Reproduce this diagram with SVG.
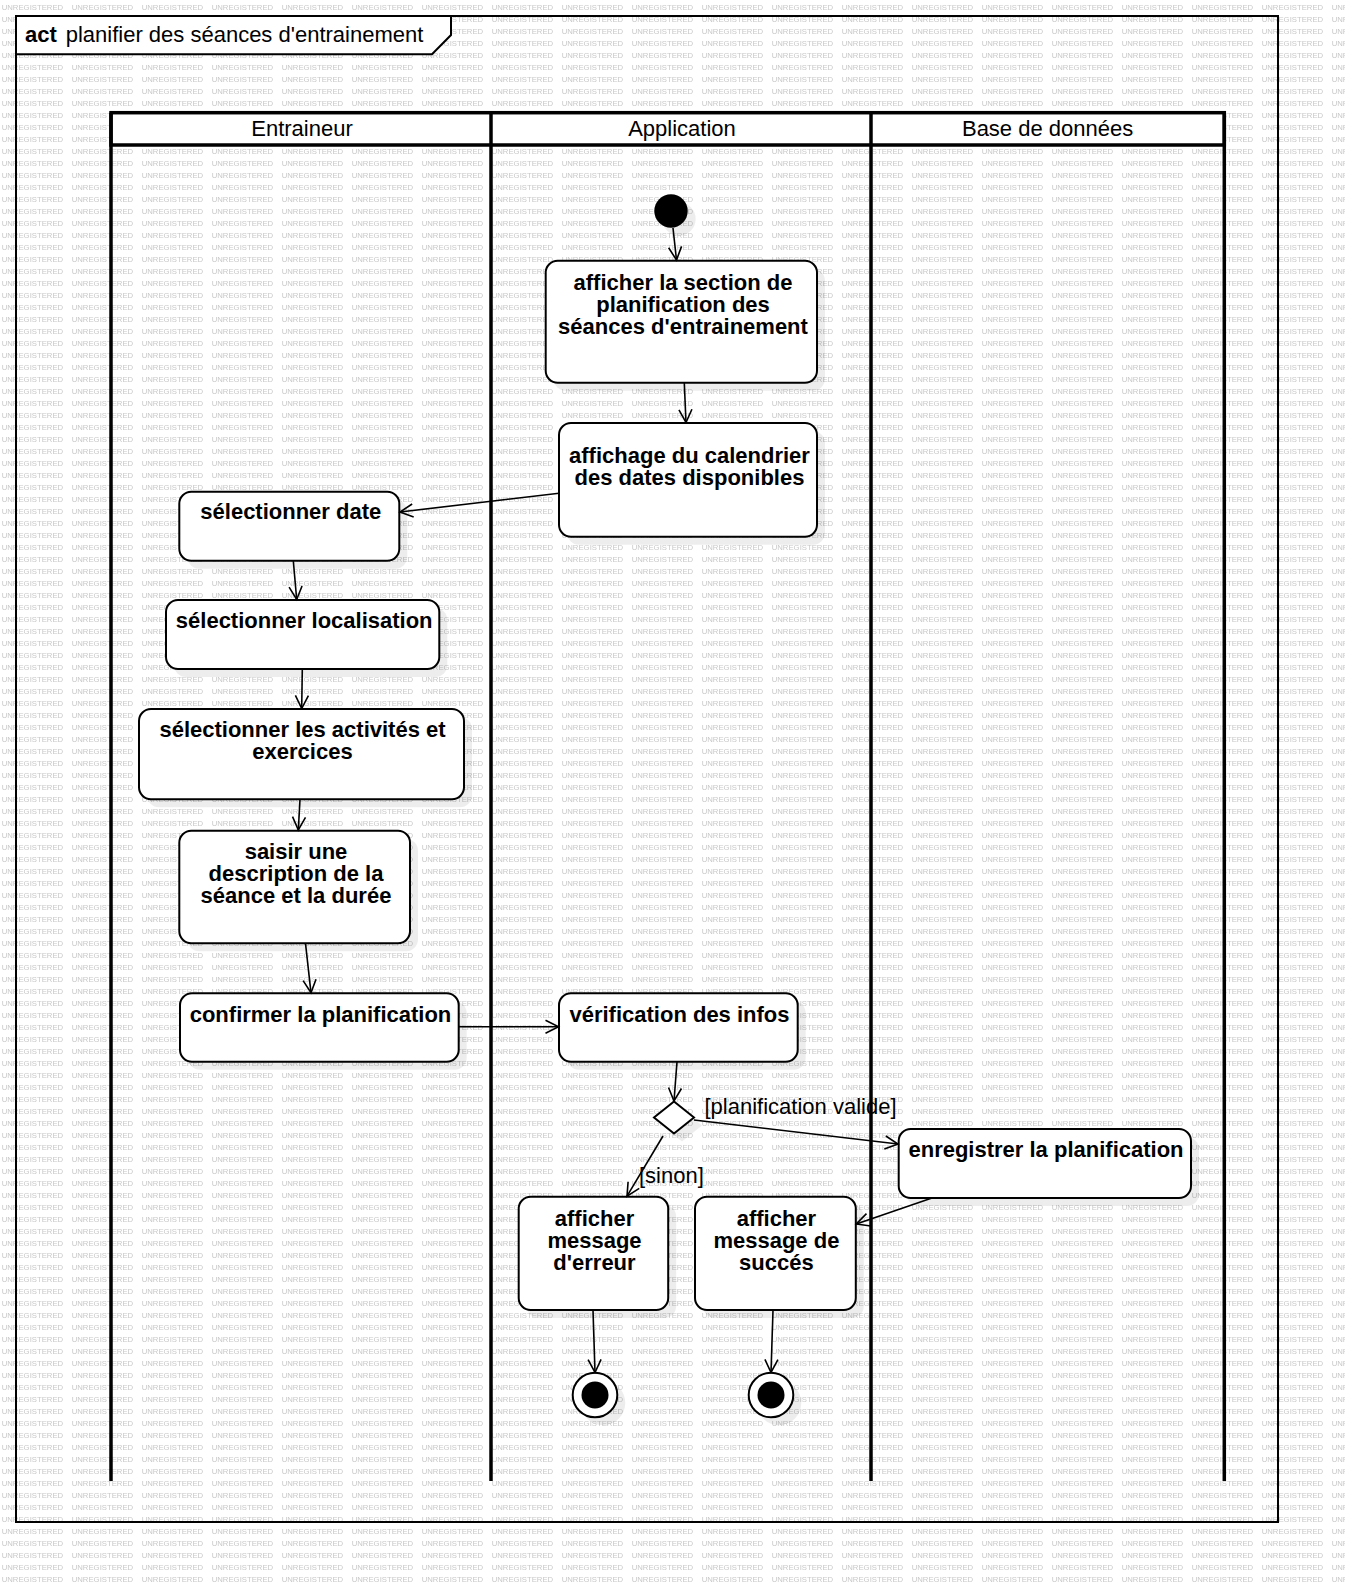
<svg xmlns="http://www.w3.org/2000/svg" width="1345" height="1589" viewBox="0 0 1345 1589">
<defs>
<style>
.wm{font-family:"Liberation Sans",Arial,sans-serif;font-size:7.75px;fill:#c8c8c8}
.box{fill:#fff;stroke:#000;stroke-width:2}
.sh{fill:#000;opacity:0.07}
.t{font-family:"Liberation Sans",Arial,sans-serif;font-size:22px;font-weight:bold;fill:#000;text-anchor:middle}
.r{font-family:"Liberation Sans",Arial,sans-serif;font-size:22px;fill:#000}
.lane{stroke:#000;stroke-width:3.5;fill:none}
.c{stroke:#000;stroke-width:1.6;fill:none;marker-end:url(#arr)}
</style>
<pattern id="wmp" width="70" height="12" patternUnits="userSpaceOnUse">
<text class="wm" x="1.7" y="10" textLength="61.5" lengthAdjust="spacingAndGlyphs">UNREGISTERED</text>
</pattern>
<marker id="arr" markerUnits="userSpaceOnUse" markerWidth="16" markerHeight="16" viewBox="-14 -8 16 16" refX="0" refY="0" orient="auto">
<path d="M-13,-6.5 L0,0 L-13,6.5" fill="none" stroke="#000" stroke-width="1.6"/>
</marker>
</defs>
<rect x="0" y="0" width="1345" height="1589" fill="#fff"/>
<rect x="0" y="0" width="1345" height="1589" fill="url(#wmp)"/>

<g id="frame">
<rect x="16" y="16" width="1262" height="1506" fill="none" stroke="#000" stroke-width="2"/>
<polygon points="16,16 451,16 451,35 432,54.3 16,54.3" fill="#fff" stroke="#000" stroke-width="2"/>
<text class="r" x="25" y="42" font-weight="bold">act</text>
<text class="r" x="65.7" y="42">planifier des séances d'entrainement</text>
</g>

<g id="swimlanes">
<rect x="111" y="112.7" width="1113.3" height="32.3" fill="#fff" stroke="#000" stroke-width="3.5"/>
<line class="lane" x1="111" y1="112.7" x2="111" y2="1481"/>
<line class="lane" x1="491" y1="112.7" x2="491" y2="1481"/>
<line class="lane" x1="871" y1="112.7" x2="871" y2="1481"/>
<line class="lane" x1="1224.3" y1="112.7" x2="1224.3" y2="1481"/>
<text class="r" x="302" y="136" text-anchor="middle">Entraineur</text>
<text class="r" x="682" y="136" text-anchor="middle">Application</text>
<text class="r" x="1047.6" y="136" text-anchor="middle">Base de données</text>
</g>

<g id="initial">
<circle class="sh" cx="679" cy="219" r="16.7"/>
<circle cx="671" cy="211" r="16.7" fill="#000"/>
</g>

<g id="n_afficher_section">
<rect class="sh" x="553.7" y="268.7" width="271.3" height="122" rx="12"/>
<rect class="box" x="545.7" y="260.7" width="271.3" height="122" rx="12"/>
<text class="t" x="683" y="290">afficher la section de</text>
<text class="t" x="683" y="312">planification des</text>
<text class="t" x="683" y="334">séances d'entrainement</text>
</g>

<g id="n_calendrier">
<rect class="sh" x="567" y="431" width="258" height="113.7" rx="12"/>
<rect class="box" x="559" y="423" width="258" height="113.7" rx="12"/>
<text class="t" x="689.5" y="463">affichage du calendrier</text>
<text class="t" x="689.5" y="485">des dates disponibles</text>
</g>

<g id="n_date">
<rect class="sh" x="187.3" y="499.7" width="220" height="69" rx="12"/>
<rect class="box" x="179.3" y="491.7" width="220" height="69" rx="12"/>
<text class="t" x="290.8" y="519.3">sélectionner date</text>
</g>

<g id="n_localisation">
<rect class="sh" x="174" y="608" width="273.3" height="69" rx="12"/>
<rect class="box" x="166" y="600" width="273.3" height="69" rx="12"/>
<text class="t" x="304.2" y="628.3">sélectionner localisation</text>
</g>

<g id="n_activites">
<rect class="sh" x="147" y="717" width="325" height="90.3" rx="12"/>
<rect class="box" x="139" y="709" width="325" height="90.3" rx="12"/>
<text class="t" x="302.5" y="736.5">sélectionner les activités et</text>
<text class="t" x="302.5" y="759">exercices</text>
</g>

<g id="n_saisir">
<rect class="sh" x="187.3" y="838.7" width="230.7" height="112.6" rx="12"/>
<rect class="box" x="179.3" y="830.7" width="230.7" height="112.6" rx="12"/>
<text class="t" x="296" y="859.3">saisir une</text>
<text class="t" x="296" y="881.3">description de la</text>
<text class="t" x="296" y="903.3">séance et la durée</text>
</g>

<g id="n_confirmer">
<rect class="sh" x="188" y="1001.3" width="278.7" height="68.4" rx="12"/>
<rect class="box" x="180" y="993.3" width="278.7" height="68.4" rx="12"/>
<text class="t" x="320.5" y="1021.7">confirmer la planification</text>
</g>

<g id="n_verification">
<rect class="sh" x="567" y="1001.3" width="238.7" height="68.4" rx="12"/>
<rect class="box" x="559" y="993.3" width="238.7" height="68.4" rx="12"/>
<text class="t" x="679.5" y="1021.7">vérification des infos</text>
</g>

<g id="decision">
<polygon class="sh" points="682,1109.5 702,1125.5 682,1141.5 662,1125.5"/>
<polygon points="674,1101.5 694,1117.5 674,1133.5 654,1117.5" fill="#fff" stroke="#000" stroke-width="2"/>
</g>

<g id="n_enregistrer">
<rect class="sh" x="906.7" y="1137" width="292.3" height="69" rx="12"/>
<rect class="box" x="898.7" y="1129" width="292.3" height="69" rx="12"/>
<text class="t" x="1046" y="1156.7">enregistrer la planification</text>
</g>

<g id="n_erreur">
<rect class="sh" x="526.7" y="1204.7" width="149.5" height="113.3" rx="12"/>
<rect class="box" x="518.7" y="1196.7" width="149.5" height="113.3" rx="12"/>
<text class="t" x="594.5" y="1225.7">afficher</text>
<text class="t" x="594.5" y="1247.7">message</text>
<text class="t" x="594.5" y="1269.7">d'erreur</text>
</g>

<g id="n_succes">
<rect class="sh" x="703" y="1204.7" width="160.8" height="113.3" rx="12"/>
<rect class="box" x="695" y="1196.7" width="160.8" height="113.3" rx="12"/>
<text class="t" x="776.4" y="1225.7">afficher</text>
<text class="t" x="776.4" y="1247.7">message de</text>
<text class="t" x="776.4" y="1269.7">succés</text>
</g>

<g id="final1">
<circle class="sh" cx="603" cy="1403" r="22.3"/>
<circle cx="595" cy="1395" r="22.3" fill="#fff" stroke="#000" stroke-width="2"/>
<circle cx="595" cy="1395" r="13.5" fill="#000"/>
</g>

<g id="final2">
<circle class="sh" cx="779" cy="1403" r="22.3"/>
<circle cx="771" cy="1395" r="22.3" fill="#fff" stroke="#000" stroke-width="2"/>
<circle cx="771" cy="1395" r="13.5" fill="#000"/>
</g>

<g id="connectors">
<line class="c" x1="673" y1="228" x2="676.5" y2="260"/>
<line class="c" x1="684.3" y1="383" x2="686" y2="422.5"/>
<line class="c" x1="559" y1="493.3" x2="400" y2="512"/>
<line class="c" x1="293.3" y1="560.7" x2="296.7" y2="599.5"/>
<line class="c" x1="302.3" y1="669" x2="301.7" y2="708.5"/>
<line class="c" x1="300" y1="799.3" x2="298.3" y2="830"/>
<line class="c" x1="305.5" y1="943.3" x2="311" y2="992.8"/>
<line class="c" x1="458.7" y1="1026.7" x2="558.5" y2="1026.7"/>
<line class="c" x1="677" y1="1061.7" x2="674" y2="1101"/>
<line class="c" x1="694" y1="1120" x2="898" y2="1144"/>
<line class="c" x1="663" y1="1136" x2="627" y2="1196.2"/>
<line class="c" x1="932" y1="1198" x2="856.3" y2="1224"/>
<line class="c" x1="593" y1="1310" x2="595" y2="1372.5"/>
<line class="c" x1="773" y1="1310" x2="771" y2="1372.5"/>
<text class="r" x="704.5" y="1114">[planification valide]</text>
<text class="r" x="639" y="1183">[sinon]</text>
</g>
</svg>
